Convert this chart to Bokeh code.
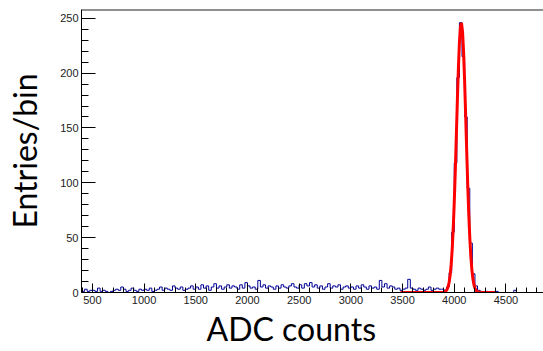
from bokeh.plotting import figure
from bokeh.models import SingleIntervalTicker, Span, Title, Range1d
from bokeh.embed import file_html
from bokeh.resources import INLINE

# Histogram binning
bin_start = 375
bin_width = 25

# Entries per bin
counts_375_1000 = [2, 1, 3, 1, 2, 2, 1, 4, 1, 2, 1, 0, 1, 2, 3, 2, 5, 3, 1, 2, 4, 2, 1, 3, 2]
counts_1000_1500 = [3, 2, 4, 1, 2, 3, 5, 2, 4, 3, 2, 6, 4, 3, 5, 2, 3, 4, 6, 3]
counts_1500_2000 = [5, 3, 7, 4, 6, 2, 5, 8, 4, 6, 3, 5, 7, 4, 6, 5, 3, 7, 4, 9]
counts_2000_2500 = [6, 4, 5, 3, 11, 5, 7, 4, 6, 5, 3, 6, 4, 7, 5, 4, 6, 8, 5, 4]
counts_2500_3000 = [7, 4, 8, 6, 9, 5, 7, 4, 6, 3, 5, 8, 4, 6, 5, 7, 3, 5, 6, 4]
counts_3000_3500 = [5, 3, 6, 4, 7, 5, 3, 6, 4, 5, 3, 11, 5, 8, 4, 6, 5, 3, 4, 2]
counts_3500_3875 = [3, 4, 12, 4, 3, 2, 4, 3, 2, 3, 5, 2, 3, 4, 3]
counts_3875_4275 = [3, 2, 5, 18, 55, 118, 196, 246, 215, 160, 95, 45, 17, 6, 2, 1]
counts_4275_4900 = [0, 1, 0, 0, 0, 1, 0, 0, 0, 0, 0, 0, 2, 0, 0, 0, 0, 0, 0, 0, 0, 0, 0, 0, 0]

counts = (counts_375_1000 + counts_1000_1500 + counts_1500_2000 + counts_2000_2500
          + counts_2500_3000 + counts_3000_3500 + counts_3500_3875 + counts_3875_4275
          + counts_4275_4900)
edges = [bin_start + bin_width * i for i in range(len(counts) + 1)]

# Gaussian fit curve
fit_x = [3480, 3600, 3700, 3800, 3850, 3880, 3900, 3910, 3920, 3930, 3940, 3950, 3960,
         3970, 3980, 3990, 4000, 4010, 4020, 4030, 4040, 4050, 4060, 4070, 4080, 4090,
         4100, 4110, 4120, 4130, 4140, 4150, 4160, 4170, 4180, 4190, 4200, 4210, 4220,
         4230, 4240, 4260, 4300, 4400]
fit_y = [0.0, 0.0, 0.0, 0.0, 0.0, 0.1, 0.3, 0.7, 1.4, 2.7, 5.1, 9.1, 15.6,
         25.4, 39.4, 58.4, 82.5, 111.0, 142.7, 175.0, 204.4, 227.9, 242.3, 245.8, 237.8, 219.4,
         193.0, 162.0, 129.9, 99.2, 72.2, 50.2, 33.3, 21.0, 12.7, 7.3, 4.0, 2.1, 1.0,
         0.5, 0.2, 0.0, 0.0, 0.0]

x_lo, x_hi = 395, 4863
y_lo, y_hi = 0, 258

p = figure(width=543, height=351, output_backend="svg", toolbar_location=None,
           x_range=Range1d(x_lo, x_hi), y_range=Range1d(y_lo, y_hi),
           min_border_left=81, min_border_right=0, min_border_top=9, min_border_bottom=59)
p.outline_line_color = None
p.grid.grid_line_color = None
p.background_fill_color = "white"
p.border_fill_color = "white"

p.step(x=edges, y=counts + [counts[-1]], mode="after", line_color="#000099", line_width=1)
p.line(fit_x, fit_y, line_color="#ff0000", line_width=3)

p.add_layout(Span(location=y_hi, dimension="width", line_color="#222222", line_width=2))

p.xaxis.ticker = SingleIntervalTicker(interval=500, num_minor_ticks=5)
p.yaxis.ticker = SingleIntervalTicker(interval=50, num_minor_ticks=5)

for ax in (p.xaxis, p.yaxis):
    ax.axis_line_color = "black"
    ax.axis_line_width = 1
    ax.major_tick_line_color = "black"
    ax.minor_tick_line_color = "black"
    ax.major_tick_out = 0
    ax.minor_tick_out = 0
    ax.major_label_text_font = "Liberation Sans"
    ax.major_label_text_font_size = "11px"
    ax.major_label_text_color = "#222222"
    ax.major_label_standoff = 3

p.xaxis.major_tick_in = 9
p.xaxis.minor_tick_in = 5
p.yaxis.major_tick_in = 14
p.yaxis.minor_tick_in = 7

p.yaxis.axis_label = "Entries/bin"
p.yaxis.axis_label_text_font = "Lato"
p.yaxis.axis_label_text_font_size = "32px"
p.yaxis.axis_label_text_font_style = "normal"
p.yaxis.axis_label_text_color = "black"
p.yaxis.axis_label_standoff = 13

p.add_layout(Title(text="ADC counts", align="left", offset=125, text_font="Lato",
                   text_font_size="32px", text_font_style="normal", text_color="black",
                   standoff=0), "below")

open("out.html", "w").write(file_html(p, INLINE))
